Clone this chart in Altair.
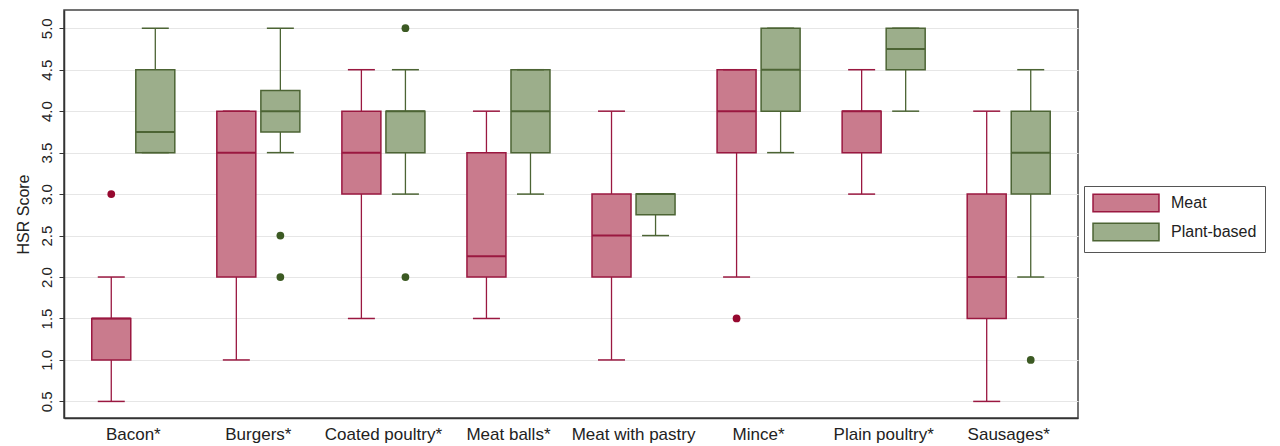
import altair as alt
import pandas as pd

categories = ["Bacon*", "Burgers*", "Coated poultry*", "Meat balls*",
              "Meat with pastry", "Mince*", "Plain poultry*", "Sausages*"]
groups = ["Meat", "Plant-based"]

# box statistics per category (whisker low, q1, median, q3, whisker high)
meat_low  = [0.5, 1.0, 1.5, 1.5, 1.0, 2.0, 3.0, 0.5]
meat_q1   = [1.0, 2.0, 3.0, 2.0, 2.0, 3.5, 3.5, 1.5]
meat_med  = [1.5, 3.5, 3.5, 2.25, 2.5, 4.0, 4.0, 2.0]
meat_q3   = [1.5, 4.0, 4.0, 3.5, 3.0, 4.5, 4.0, 3.0]
meat_high = [2.0, 4.0, 4.5, 4.0, 4.0, 4.5, 4.5, 4.0]

plant_low  = [3.5, 3.5, 3.0, 3.0, 2.5, 3.5, 4.0, 2.0]
plant_q1   = [3.5, 3.75, 3.5, 3.5, 2.75, 4.0, 4.5, 3.0]
plant_med  = [3.75, 4.0, 4.0, 4.0, 3.0, 4.5, 4.75, 3.5]
plant_q3   = [4.5, 4.25, 4.0, 4.5, 3.0, 5.0, 5.0, 4.0]
plant_high = [5.0, 5.0, 4.5, 4.5, 3.0, 5.0, 5.0, 4.5]

out_cat   = ["Bacon*", "Mince*", "Burgers*", "Burgers*", "Coated poultry*", "Coated poultry*", "Sausages*"]
out_group = ["Meat", "Meat", "Plant-based", "Plant-based", "Plant-based", "Plant-based", "Plant-based"]
out_value = [3.0, 1.5, 2.5, 2.0, 5.0, 2.0, 1.0]

y_ticks = [0.5, 1.0, 1.5, 2.0, 2.5, 3.0, 3.5, 4.0, 4.5, 5.0]

fill_colors = ["#c97b8d", "#9cae8b"]
stroke_colors = ["#9a1840", "#4c6434"]
point_colors = ["#96082f", "#3c5a23"]

rows = []
for i, c in enumerate(categories):
    rows.append(dict(cat=c, group="Meat", low=meat_low[i], q1=meat_q1[i], med=meat_med[i],
                     q3=meat_q3[i], high=meat_high[i]))
    rows.append(dict(cat=c, group="Plant-based", low=plant_low[i], q1=plant_q1[i], med=plant_med[i],
                     q3=plant_q3[i], high=plant_high[i]))
box_df = pd.DataFrame(rows)
out_df = pd.DataFrame(dict(cat=out_cat, group=out_group, value=out_value))

FONT = "Liberation Sans, Arial, Helvetica, sans-serif"

y_axis = alt.Axis(values=y_ticks, format=".1f", labelAngle=-90, labelBaseline="alphabetic",
                  labelAlign="center", title="HSR Score",
                  grid=True, gridColor="#e6e6e6", gridWidth=1,
                  tickColor="#333", tickSize=5, tickWidth=1,
                  domainColor="#333", domainWidth=1.5,
                  labelFontSize=15, labelColor="#222", labelPadding=8,
                  titleFontSize=16, titleFontWeight="normal", titleColor="#222", titlePadding=8)
y_scale = alt.Scale(domain=[0.3, 5.22], nice=False, zero=False)

x_enc = alt.X("cat:N", sort=categories,
              scale=alt.Scale(paddingInner=0, paddingOuter=0.054),
              axis=alt.Axis(title=None, labelAngle=0, ticks=False, domainColor="#333",
                            domainWidth=1.5, labelFontSize=17, labelColor="#222",
                            labelPadding=8, grid=False))
xo_enc = alt.XOffset("group:N", sort=groups, scale=alt.Scale(paddingInner=0, paddingOuter=0.42))
color_enc = alt.Color("group:N", sort=groups, scale=alt.Scale(domain=groups, range=stroke_colors), legend=None)

legend_kw = dict(title=None, orient="none", legendX=1020, legendY=176,
                 symbolType="M-4,-1.06L4,-1.06L4,1.06L-4,1.06Z",
                 symbolSize=272, symbolStrokeWidth=1.5,
                 symbolOffset=25, labelOffset=36,
                 labelFontSize=16, labelColor="#222", rowPadding=5,
                 padding=8, strokeColor="#555", symbolOpacity=1)

base = alt.Chart(box_df)

whisk = base.mark_rule(strokeWidth=1.3).encode(
    x=x_enc, xOffset=xo_enc,
    y=alt.Y("low:Q", scale=y_scale, axis=y_axis), y2="high:Q",
    color=color_enc)

box = base.mark_bar(size=39, strokeWidth=1.5, opacity=1).encode(
    x=x_enc, xOffset=xo_enc,
    y=alt.Y("q1:Q", scale=y_scale, axis=y_axis), y2="q3:Q",
    fill=alt.Fill("group:N", sort=groups, scale=alt.Scale(domain=groups, range=fill_colors),
                  legend=alt.Legend(**legend_kw)),
    stroke=alt.Stroke("group:N", sort=groups, scale=alt.Scale(domain=groups, range=stroke_colors),
                      legend=alt.Legend(**legend_kw)))

median = base.mark_tick(size=39, thickness=2, orient="horizontal", opacity=1).encode(
    x=x_enc, xOffset=xo_enc,
    y=alt.Y("med:Q", scale=y_scale, axis=y_axis),
    color=color_enc)

cap_lo = base.mark_tick(size=27, thickness=1.5, orient="horizontal", opacity=1).encode(
    x=x_enc, xOffset=xo_enc,
    y=alt.Y("low:Q", scale=y_scale, axis=y_axis),
    color=color_enc)

cap_hi = base.mark_tick(size=27, thickness=1.5, orient="horizontal", opacity=1).encode(
    x=x_enc, xOffset=xo_enc,
    y=alt.Y("high:Q", scale=y_scale, axis=y_axis),
    color=color_enc)

points = alt.Chart(out_df).mark_circle(size=60, opacity=1).encode(
    x=x_enc, xOffset=xo_enc,
    y=alt.Y("value:Q", scale=y_scale, axis=y_axis),
    color=alt.Color("group:N", sort=groups, scale=alt.Scale(domain=groups, range=point_colors), legend=None))

chart = alt.layer(whisk, box, median, cap_lo, cap_hi, points).resolve_scale(
    color="independent"
).properties(
    width=1014, height=408, autosize="none",
    padding={"left": 56, "top": 2, "right": 194, "bottom": 28}
).configure(font=FONT).configure_view(stroke="#444", strokeWidth=1.5)

chart.save("out.html", embed_options={"renderer": "svg", "actions": False})
